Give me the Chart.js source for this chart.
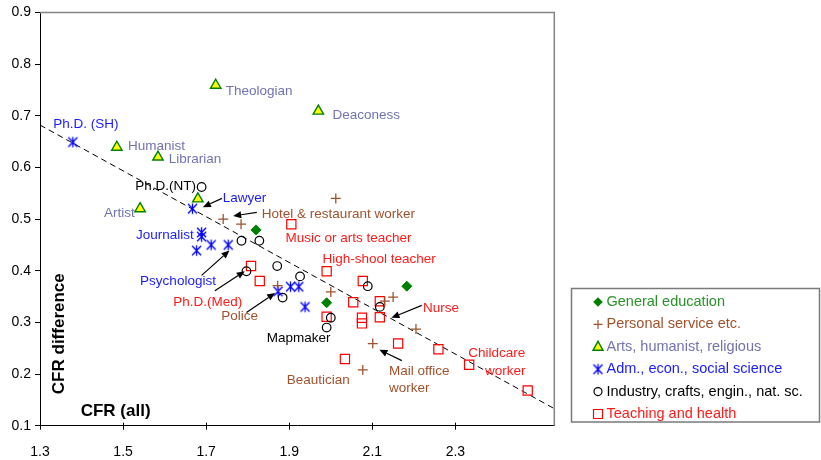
<!DOCTYPE html>
<html>
<head>
<meta charset="utf-8">
<script src="https://cdn.jsdelivr.net/npm/chart.js@4.4.1/dist/chart.umd.min.js"></script>
<style>
  html, body { margin: 0; padding: 0; background: #fff; }
  canvas { display: block; }
</style>
</head>
<body>
<canvas id="chart" width="821" height="460"></canvas>
<script>
// Tick labels
const xTicks = [1.3, 1.5, 1.7, 1.9, 2.1, 2.3];
const yTicks = [0.1, 0.2, 0.3, 0.4, 0.5, 0.6, 0.7, 0.8, 0.9];

// Series names
const seriesNames = [
  'General education',
  'Personal service etc.',
  'Arts, humanist, religious',
  'Adm., econ., social science',
  'Industry, crafts, engin., nat. sc.',
  'Teaching and health'
];

// Series values (CFR all, CFR difference)
const genEduX = [1.820, 1.990, 2.183];
const genEduY = [0.479, 0.338, 0.370];

const personalX = [2.012, 1.741, 1.784, 1.872, 2.000, 2.130, 2.150, 2.205, 2.101, 2.077];
const personalY = [0.540, 0.500, 0.490, 0.371, 0.359, 0.341, 0.349, 0.287, 0.259, 0.208];

const artsX = [1.723, 1.970, 1.485, 1.584, 1.680, 1.541];
const artsY = [0.759, 0.709, 0.639, 0.620, 0.539, 0.520];

const admX = [1.379, 1.667, 1.689, 1.689, 1.677, 1.712, 1.753, 1.873, 1.903, 1.923, 1.938];
const admY = [0.649, 0.520, 0.474, 0.466, 0.439, 0.450, 0.450, 0.360, 0.369, 0.369, 0.330];

const industryX = [1.689, 1.785, 1.828, 1.871, 1.926, 1.797, 1.884, 2.000, 1.990, 2.089, 2.118];
const industryY = [0.562, 0.458, 0.458, 0.409, 0.389, 0.399, 0.348, 0.309, 0.290, 0.370, 0.330];

const teachX = [1.905, 1.808, 1.829, 1.990, 2.077, 2.054, 1.990, 2.075, 2.075, 2.118, 2.118, 2.162, 2.034, 2.259, 2.333, 2.474];
const teachY = [0.490, 0.409, 0.380, 0.399, 0.380, 0.339, 0.311, 0.309, 0.298, 0.341, 0.310, 0.259, 0.229, 0.248, 0.218, 0.168];

// Trend line end points
const trendX = [1.3, 2.538];
const trendY = [0.682, 0.133];

// Occupation labels (group index selects colour)
const labelText = ['Ph.D. (SH)', 'Humanist', 'Librarian', 'Theologian', 'Deaconess', 'Ph.D.(NT)', 'Artist',
  'Lawyer', 'Hotel & restaurant worker', 'Journalist', 'Music or arts teacher', 'High-shool teacher',
  'Psychologist', 'Ph.D.(Med)', 'Police', 'Mapmaker', 'Nurse', 'Childcare', 'worker', 'Mail office',
  'worker', 'Beautician'];
const labelX = [1.332, 1.512, 1.610, 1.747, 2.004, 1.529, 1.454, 1.740, 1.834, 1.531, 1.891, 1.980,
  1.541, 1.621, 1.736, 1.846, 2.222, 2.331, 2.371, 2.140, 2.140, 1.894];
const labelY = [0.684, 0.640, 0.616, 0.748, 0.700, 0.564, 0.511, 0.540, 0.510, 0.468, 0.462, 0.422,
  0.380, 0.338, 0.312, 0.270, 0.327, 0.240, 0.205, 0.205, 0.172, 0.188];
const labelGroup = [3, 2, 2, 2, 2, 4, 2, 3, 1, 3, 5, 5, 3, 5, 1, 4, 5, 5, 5, 1, 1, 1];

// Arrows: tail -> head
const arrowFromX = [1.738, 1.822, 1.689, 1.721, 1.797, 2.219, 2.171];
const arrowFromY = [0.540, 0.513, 0.391, 0.361, 0.319, 0.333, 0.226];
const arrowToX = [1.692, 1.765, 1.756, 1.793, 1.866, 2.146, 2.117];
const arrowToY = [0.523, 0.506, 0.439, 0.399, 0.357, 0.309, 0.247];

const markColor = ['#008000', '#a0522d', '#008000', '#0000ff', '#000000', '#ff0000'];
const textColor = ['#2a922a', '#a0522d', '#7272b2', '#1a1aff', '#000000', '#ff1a1a'];

function zip(xs, ys) {
  return xs.map((v, i) => ({ x: v, y: ys[i] }));
}

// Asterisk marker (X with a vertical stroke)
function makeAsterisk(size, color, lw) {
  const c = document.createElement('canvas');
  c.width = size; c.height = size;
  const g = c.getContext('2d');
  const m = size / 2, r = size / 2 - 1.2;
  g.strokeStyle = color; g.lineWidth = lw;
  g.beginPath();
  g.moveTo(m - r * 0.85, m - r * 0.9); g.lineTo(m + r * 0.85, m + r * 0.9);
  g.moveTo(m + r * 0.85, m - r * 0.9); g.lineTo(m - r * 0.85, m + r * 0.9);
  g.moveTo(m, m - r); g.lineTo(m, m + r);
  g.stroke();
  return c;
}
const asterisk = makeAsterisk(13, '#0000ff', 1.3);

const FONT = '"Liberation Sans", Arial, sans-serif';

const overlay = {
  id: 'overlay',
  afterDraw(chart) {
    const { ctx, chartArea: a, scales: { x, y } } = chart;
    ctx.save();

    // grey frame on top and right
    ctx.strokeStyle = '#848484';
    ctx.lineWidth = 1.5;
    ctx.beginPath();
    ctx.moveTo(a.left, a.top);
    ctx.lineTo(a.right, a.top);
    ctx.lineTo(a.right, a.bottom);
    ctx.stroke();

    // tick stubs above the x axis (cross ticks)
    ctx.strokeStyle = '#000';
    ctx.lineWidth = 1;
    ctx.beginPath();
    xTicks.forEach(v => {
      const px = Math.round(x.getPixelForValue(v)) + 0.5;
      ctx.moveTo(px, a.bottom - 3);
      ctx.lineTo(px, a.bottom);
    });
    ctx.stroke();

    // arrows
    ctx.fillStyle = '#000';
    arrowFromX.forEach((v, i) => {
      const x0 = x.getPixelForValue(v), y0 = y.getPixelForValue(arrowFromY[i]);
      const x1 = x.getPixelForValue(arrowToX[i]), y1 = y.getPixelForValue(arrowToY[i]);
      const ang = Math.atan2(y1 - y0, x1 - x0);
      const len = 8, hw = 3.5;
      const bx = x1 - Math.cos(ang) * len, by = y1 - Math.sin(ang) * len;
      ctx.beginPath();
      ctx.moveTo(x0, y0); ctx.lineTo(bx, by);
      ctx.lineWidth = 1.2;
      ctx.stroke();
      ctx.beginPath();
      ctx.moveTo(x1, y1);
      ctx.lineTo(bx + Math.sin(ang) * hw, by - Math.cos(ang) * hw);
      ctx.lineTo(bx - Math.sin(ang) * hw, by + Math.cos(ang) * hw);
      ctx.closePath();
      ctx.fill();
    });

    // occupation labels
    ctx.font = '13.5px ' + FONT;
    ctx.textBaseline = 'middle';
    ctx.textAlign = 'left';
    labelText.forEach((t, i) => {
      ctx.fillStyle = textColor[labelGroup[i]];
      ctx.fillText(t, x.getPixelForValue(labelX[i]), y.getPixelForValue(labelY[i]));
    });

    // axis titles (placed inside the plot like the original)
    ctx.fillStyle = '#000';
    ctx.font = 'bold 17px ' + FONT;
    ctx.fillText('CFR (all)', a.left + 40.7, a.bottom - 14);
    ctx.save();
    ctx.translate(a.left + 19.3, a.bottom - 92);
    ctx.rotate(-Math.PI / 2);
    ctx.textAlign = 'center';
    ctx.fillText('CFR difference', 0, 0);
    ctx.restore();

    // legend box
    const lx = 571.5, ly = 288.5;
    ctx.strokeStyle = '#7a7a7a';
    ctx.lineWidth = 1.5;
    ctx.strokeRect(lx, ly, 248, 133.5);
    ctx.font = '14.5px ' + FONT;
    seriesNames.forEach((name, i) => {
      const cy = 302 + i * 22.4, mx = 598;
      drawLegendMarker(ctx, i, mx, cy);
      ctx.fillStyle = textColor[i];
      ctx.fillText(name, 606.5, cy);
    });
    ctx.restore();
  }
};

function drawLegendMarker(ctx, i, x, y) {
  ctx.save();
  ctx.lineWidth = 1.2;
  ctx.strokeStyle = markColor[i];
  ctx.fillStyle = markColor[i];
  ctx.beginPath();
  if (i === 0) {
    ctx.moveTo(x, y - 4.8); ctx.lineTo(x + 4.8, y); ctx.lineTo(x, y + 4.8); ctx.lineTo(x - 4.8, y); ctx.closePath();
    ctx.fill();
  } else if (i === 1) {
    ctx.moveTo(x - 4.5, y); ctx.lineTo(x + 4.5, y); ctx.moveTo(x, y - 4.5); ctx.lineTo(x, y + 4.5);
    ctx.stroke();
  } else if (i === 2) {
    ctx.moveTo(x, y - 5.5); ctx.lineTo(x + 5, y + 3.5); ctx.lineTo(x - 5, y + 3.5); ctx.closePath();
    ctx.fillStyle = '#ffff00'; ctx.fill(); ctx.lineWidth = 1.4; ctx.stroke();
  } else if (i === 3) {
    ctx.drawImage(asterisk, x - 6.5, y - 6.5);
  } else if (i === 4) {
    ctx.arc(x, y, 4, 0, Math.PI * 2); ctx.stroke();
  } else {
    ctx.rect(x - 4.5, y - 4.5, 9, 9); ctx.stroke();
  }
  ctx.restore();
}

const tickFont = { family: FONT, size: 14 };

new Chart(document.getElementById('chart'), {
  type: 'scatter',
  data: {
    datasets: [
      { label: seriesNames[0], data: zip(genEduX, genEduY), pointStyle: 'rectRot', pointRadius: 5,
        backgroundColor: markColor[0], borderColor: markColor[0], borderWidth: 1 },
      { label: seriesNames[1], data: zip(personalX, personalY), pointStyle: 'cross', pointRadius: 5,
        borderColor: markColor[1], borderWidth: 1.3 },
      { label: seriesNames[2], data: zip(artsX, artsY), pointStyle: 'triangle', pointRadius: 6,
        backgroundColor: '#ffff00', borderColor: markColor[2], borderWidth: 1.4 },
      { label: seriesNames[3], data: zip(admX, admY), pointStyle: asterisk, pointRadius: 6 },
      { label: seriesNames[4], data: zip(industryX, industryY), pointStyle: 'circle', pointRadius: 4.3,
        backgroundColor: 'rgba(0,0,0,0)', borderColor: markColor[4], borderWidth: 1.2 },
      { label: seriesNames[5], data: zip(teachX, teachY), pointStyle: 'rect', pointRadius: 6.5,
        backgroundColor: 'rgba(0,0,0,0)', borderColor: markColor[5], borderWidth: 1.2 },
      { type: 'line', label: 'trend', data: zip(trendX, trendY), borderColor: '#000', borderWidth: 1,
        borderDash: [6, 4], pointRadius: 0, fill: false }
    ]
  },
  options: {
    responsive: false,
    animation: false,
    events: [],
    layout: { padding: { left: 0, top: 9.5, right: 266.7, bottom: 0 } },
    plugins: { legend: { display: false }, tooltip: { enabled: false } },
    scales: {
      x: {
        type: 'linear', min: 1.3, max: 2.538,
        afterBuildTicks: s => { s.ticks = xTicks.map(v => ({ value: v })); },
        afterFit: s => { s.height = 34.3; },
        grid: { drawOnChartArea: false, tickLength: 4, color: '#000' },
        border: { color: '#000', width: 1 },
        ticks: { font: tickFont, color: '#000', padding: 14, maxRotation: 0,
                 callback: v => Number(v).toFixed(1) }
      },
      y: {
        type: 'linear', min: 0.1, max: 0.9,
        afterBuildTicks: s => { s.ticks = yTicks.map(v => ({ value: v })); },
        afterFit: s => { s.width = 40; },
        grid: { drawOnChartArea: false, tickLength: 5, color: '#000' },
        border: { color: '#000', width: 1 },
        ticks: { font: tickFont, color: '#000', padding: 4,
                 callback: v => Number(v).toFixed(1) }
      }
    }
  },
  plugins: [overlay]
});
</script>
</body>
</html>
